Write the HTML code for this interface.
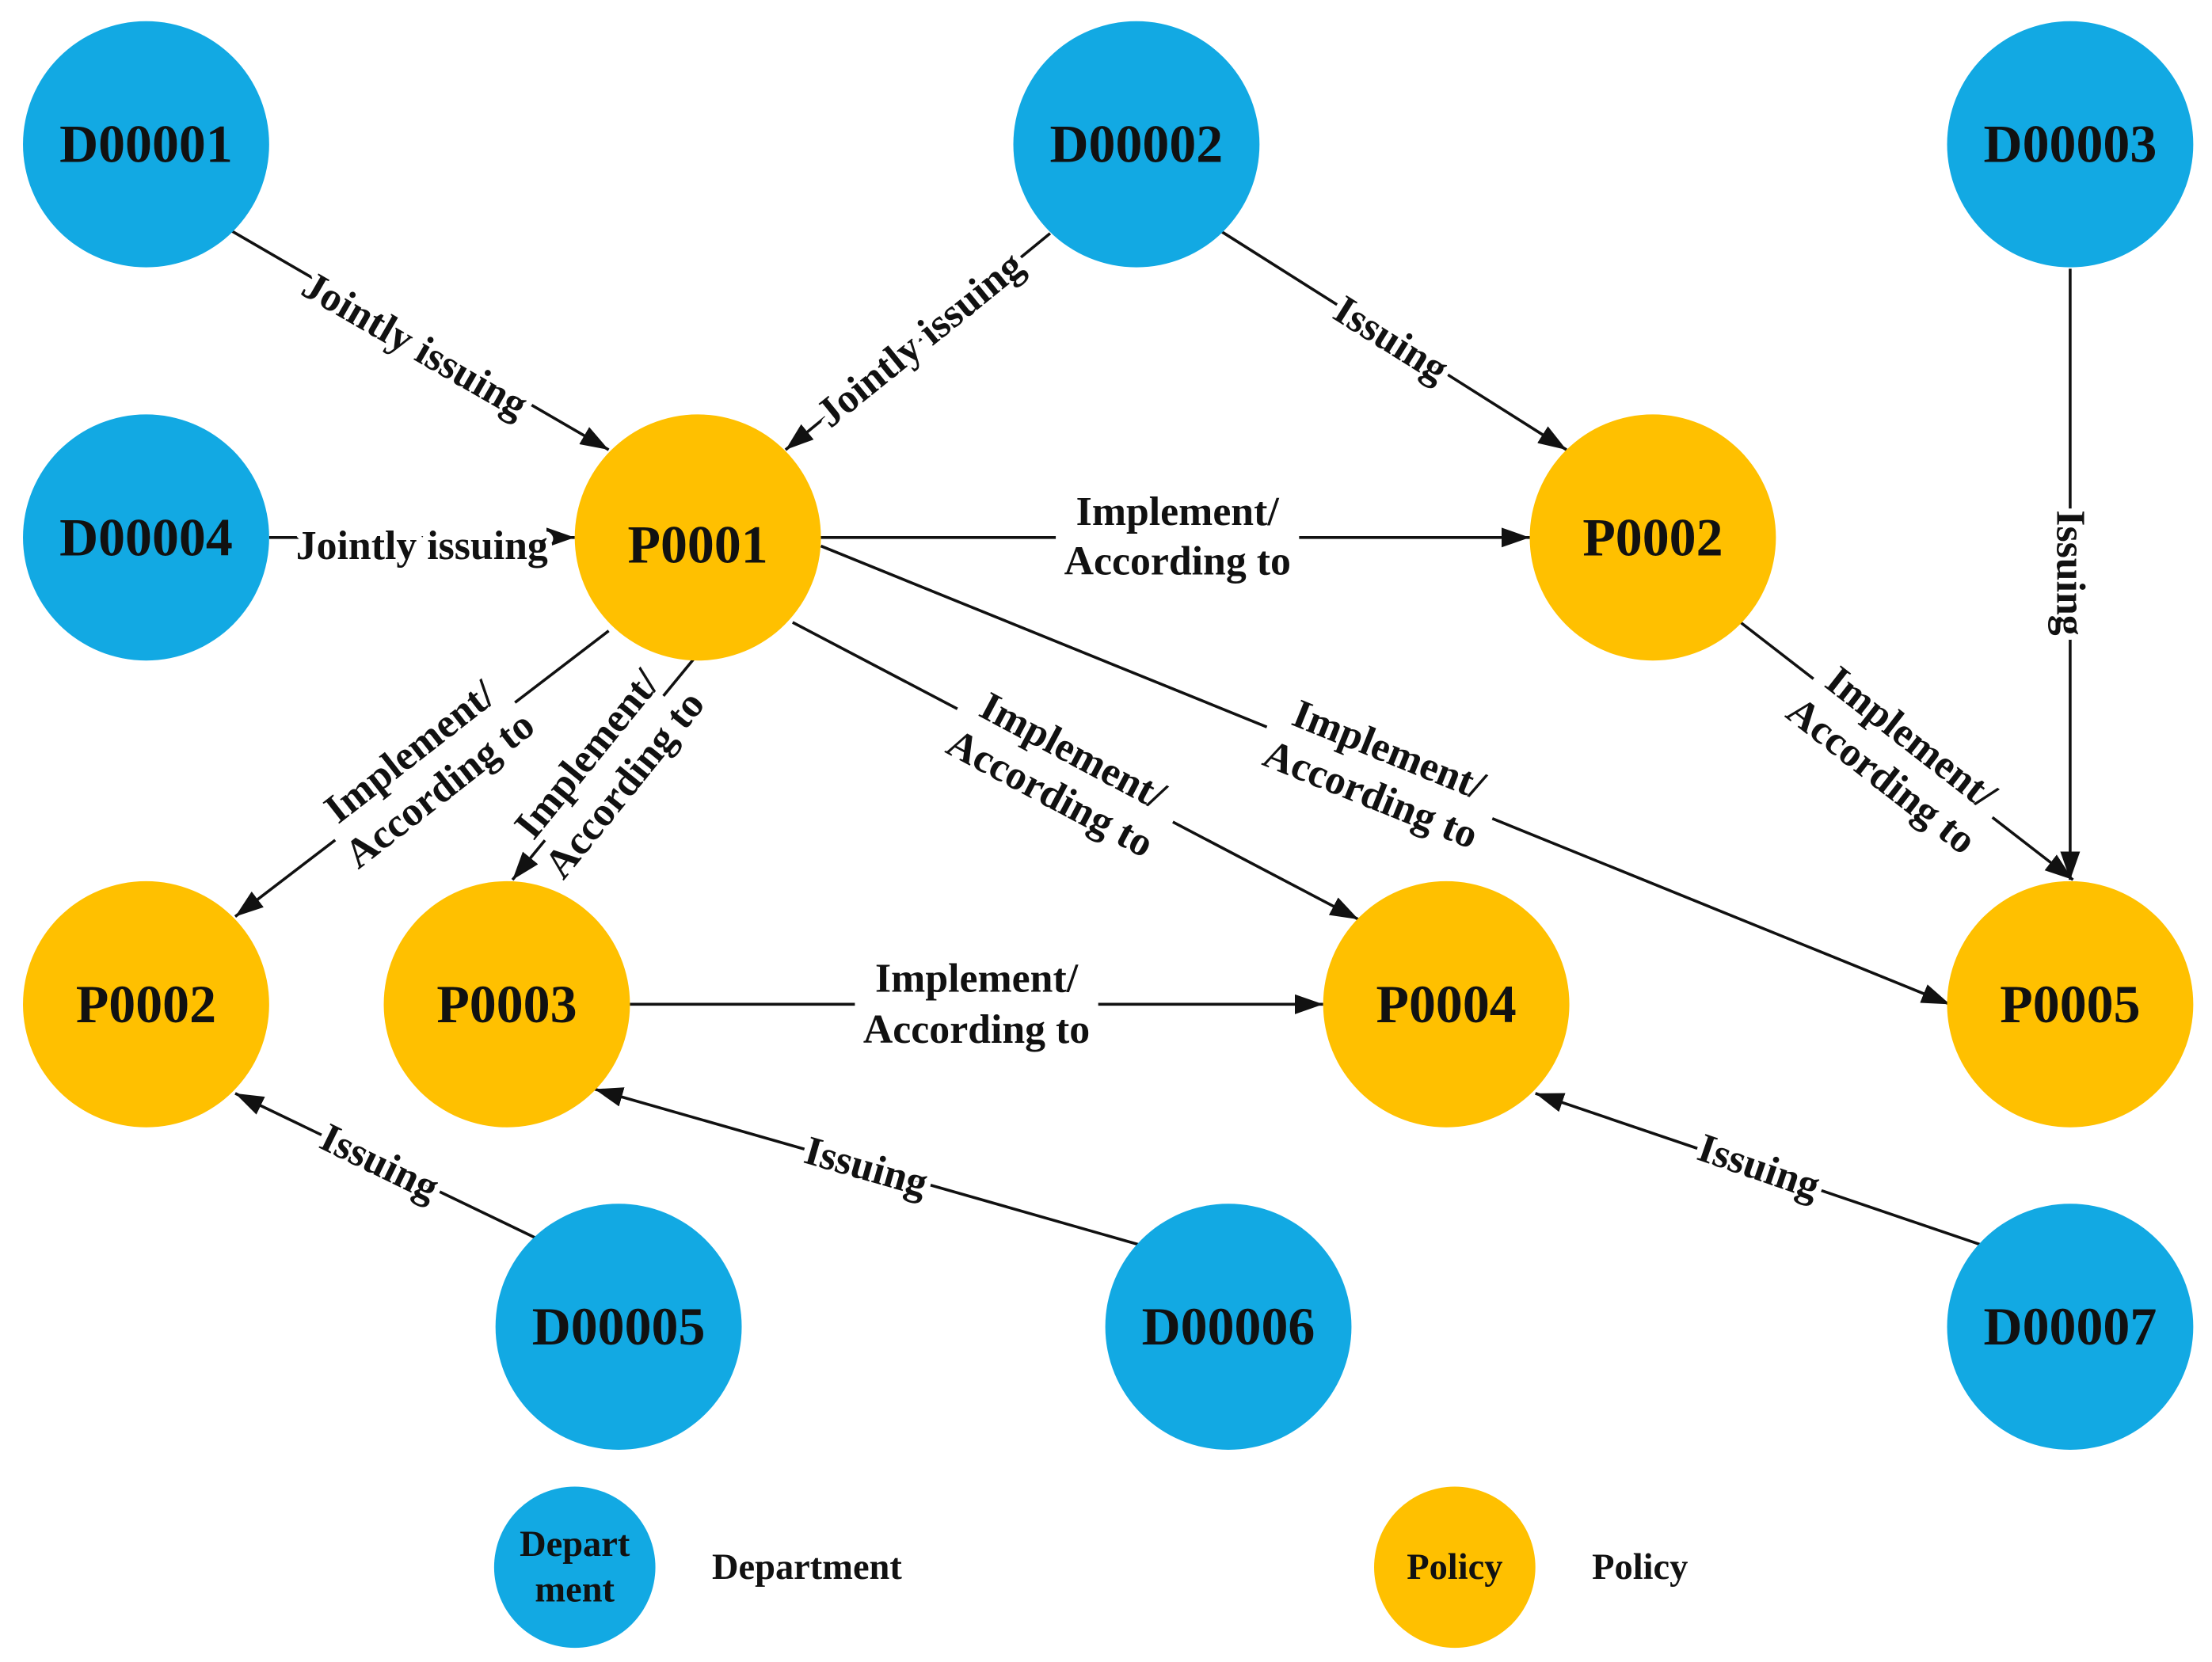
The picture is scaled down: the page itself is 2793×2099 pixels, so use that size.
<!DOCTYPE html>
<html><head><meta charset="utf-8"><style>
html,body{margin:0;padding:0;background:#fff;}
svg{display:block;}
.n{font-family:"Liberation Serif",serif;font-weight:bold;font-size:38px;fill:#111;text-anchor:middle;dominant-baseline:central;}
.e{font-family:"Liberation Serif",serif;font-weight:bold;font-size:29px;fill:#111;text-anchor:middle;dominant-baseline:central;paint-order:stroke;stroke:#fff;stroke-width:9px;stroke-linejoin:round;}
.l{font-family:"Liberation Serif",serif;font-weight:bold;font-size:26px;fill:#111;dominant-baseline:central;}
line{stroke:#111;stroke-width:2;}
.b{fill:#12A9E3;} .o{fill:#FFC000;}
.bg{fill:#fff;}
</style></head><body>
<svg width="2793" height="2099" viewBox="0 0 1563 1175" xmlns="http://www.w3.org/2000/svg">
<defs>
<marker id="m" viewBox="0 0 20 14" refX="20" refY="7" markerWidth="20" markerHeight="14" markerUnits="userSpaceOnUse" orient="auto"><path d="M0,0 L20,7 L0,14 z" fill="#111"/></marker></defs>
<g marker-end="url(#m)">
<line x1="163" y1="163" x2="430" y2="318"/>
<line x1="742" y1="165" x2="555" y2="318"/>
<line x1="862" y1="163" x2="1107" y2="318"/>
<line x1="1463" y1="190" x2="1463" y2="622"/>
<line x1="190" y1="380" x2="406" y2="380"/>
<line x1="580" y1="380" x2="1081" y2="380"/>
<line x1="430" y1="446" x2="166" y2="648"/>
<line x1="490" y1="466" x2="362" y2="622"/>
<line x1="560" y1="440" x2="960" y2="650"/>
<line x1="580" y1="386" x2="1378" y2="710"/>
<line x1="1230" y1="440" x2="1465" y2="622"/>
<line x1="445" y1="710" x2="935" y2="710"/>
<line x1="378" y1="875" x2="166" y2="773"/>
<line x1="805" y1="880" x2="420" y2="770"/>
<line x1="1400" y1="880" x2="1085" y2="773"/>
</g>
<circle class="b" cx="103" cy="102" r="87"/><text class="n" x="103" y="102">D00001</text>
<circle class="b" cx="803" cy="102" r="87"/><text class="n" x="803" y="102">D00002</text>
<circle class="b" cx="1463" cy="102" r="87"/><text class="n" x="1463" y="102">D00003</text>
<circle class="b" cx="103" cy="380" r="87"/><text class="n" x="103" y="380">D00004</text>
<circle class="o" cx="493" cy="380" r="87"/><text class="n" x="493" y="385">P0001</text>
<circle class="o" cx="1168" cy="380" r="87"/><text class="n" x="1168" y="380">P0002</text>
<circle class="o" cx="103" cy="710" r="87"/><text class="n" x="103" y="710">P0002</text>
<circle class="o" cx="358" cy="710" r="87"/><text class="n" x="358" y="710">P0003</text>
<circle class="o" cx="1022" cy="710" r="87"/><text class="n" x="1022" y="710">P0004</text>
<circle class="o" cx="1463" cy="710" r="87"/><text class="n" x="1463" y="710">P0005</text>
<circle class="b" cx="437" cy="938" r="87"/><text class="n" x="437" y="938">D00005</text>
<circle class="b" cx="868" cy="938" r="87"/><text class="n" x="868" y="938">D00006</text>
<circle class="b" cx="1463" cy="938" r="87"/><text class="n" x="1463" y="938">D00007</text>

<text class="e" transform="translate(293,244) rotate(30)">Jointly issuing</text>
<text class="e" transform="translate(650,240) rotate(-39)">Jointly issuing</text>
<text class="e" transform="translate(983,240) rotate(32)">Issuing</text>
<text class="e" transform="translate(1463,405) rotate(90)">Issuing</text>
<text class="e" x="298" y="386">Jointly issuing</text>
<g transform="translate(832,380)"><rect class="bg" x="-86" y="-34" width="172" height="68"/><text class="e" x="0" y="-18">Implement/</text><text class="e" x="0" y="17">According to</text></g>
<g transform="translate(300,545) rotate(-38)"><rect class="bg" x="-80" y="-30" width="160" height="60"/><text class="e" x="0" y="-17">Implement/</text><text class="e" x="0" y="17">According to</text></g>
<g transform="translate(428,544) rotate(-51)"><rect class="bg" x="-66" y="-26" width="132" height="52"/><text class="e" x="0" y="-17">Implement/</text><text class="e" x="0" y="17">According to</text></g>
<g transform="translate(750,546) rotate(28)"><rect class="bg" x="-86" y="-34" width="172" height="68"/><text class="e" x="0" y="-17">Implement/</text><text class="e" x="0" y="17">According to</text></g>
<g transform="translate(975,546) rotate(22)"><rect class="bg" x="-86" y="-34" width="172" height="68"/><text class="e" x="0" y="-17">Implement/</text><text class="e" x="0" y="17">According to</text></g>
<g transform="translate(1340,535) rotate(38)"><rect class="bg" x="-80" y="-30" width="160" height="60"/><text class="e" x="0" y="-17">Implement/</text><text class="e" x="0" y="17">According to</text></g>
<g transform="translate(690,710)"><rect class="bg" x="-86" y="-34" width="172" height="68"/><text class="e" x="0" y="-18">Implement/</text><text class="e" x="0" y="18">According to</text></g>
<text class="e" transform="translate(268,822) rotate(26)">Issuing</text>
<text class="e" transform="translate(612,825) rotate(16)">Issuing</text>
<text class="e" transform="translate(1243,825) rotate(19)">Issuing</text>

<circle class="b" cx="406" cy="1108" r="57"/>
<text class="l" x="406" y="1092" text-anchor="middle">Depart</text><text class="l" x="406" y="1124" text-anchor="middle">ment</text>
<text class="l" x="503" y="1108">Department</text>
<circle class="o" cx="1028" cy="1108" r="57"/>
<text class="l" x="1028" y="1108" text-anchor="middle">Policy</text>
<text class="l" x="1125" y="1108">Policy</text>
</svg>
</body></html>
